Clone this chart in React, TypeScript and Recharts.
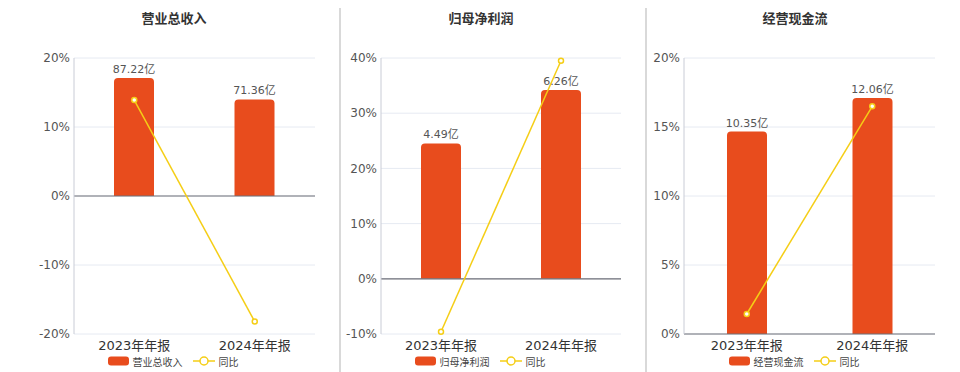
import React from 'react';
import { ComposedChart, Bar, Line, XAxis, YAxis, CartesianGrid, ReferenceLine, LabelList } from 'recharts';

const categories = ['2023年年报', '2024年年报'];

const revenueValues = [87.22, 71.36];
const revenueYoY = [13.9, -18.2];
const profitValues = [4.49, 6.26];
const profitYoY = [-9.6, 39.5];
const cashValues = [10.35, 12.06];
const cashYoY = [1.45, 16.5];

const revenueTicks = [-20, -10, 0, 10, 20];
const profitTicks = [-10, 0, 10, 20, 30, 40];
const cashTicks = [0, 5, 10, 15, 20];

const BAR_COLOR = '#E84C1D';
const LINE_COLOR = '#F5CE16';
const FONT = '"DejaVu Sans", "Noto Sans CJK SC", sans-serif';

type PanelProps = {
  title: string;
  values: number[];
  yoy: number[];
  ticks: number[];
  left: number;
  width: number;
  yAxisWidth: number;
  marginRight: number;
  titleCenter: number;
  legendCenter: number;
};

function Panel(p: PanelProps) {
  const data = categories.map((c, i) => ({ name: c, value: p.values[i], yoy: p.yoy[i] }));
  const pMin = p.ticks[0];
  const pMax = p.ticks[p.ticks.length - 1];
  const amtMax = Math.max(...p.values) * 1.17;
  const amtMin = (amtMax * pMin) / pMax;
  return (
    <>
      <div
        style={{
          position: 'absolute',
          left: p.titleCenter - 100,
          width: 200,
          top: 10,
          textAlign: 'center',
          fontFamily: FONT,
          fontWeight: 'bold',
          fontSize: 13,
          color: '#333',
          lineHeight: '18px',
        }}
      >
        {p.title}
      </div>
      <div style={{ position: 'absolute', left: p.left, top: 0 }}>
        <ComposedChart
          width={p.width}
          height={372}
          data={data}
          margin={{ top: 58, right: p.marginRight, bottom: 8, left: 0 }}
        >
          <CartesianGrid yAxisId="pct" vertical={false} stroke="#E6EAF2" />
          <XAxis
            dataKey="name"
            height={30}
            axisLine={false}
            tickLine={false}
            tickSize={5}
            tickMargin={2}
            tick={{ fontSize: 13, fill: '#333', fontFamily: FONT }}
          />
          <YAxis
            yAxisId="pct"
            width={p.yAxisWidth}
            domain={[pMin, pMax]}
            ticks={p.ticks}
            interval={0}
            tickFormatter={(v: number) => `${v}%`}
            axisLine={{ stroke: '#C9CCD6' }}
            tickLine={false}
            tickSize={2}
            tickMargin={2}
            tick={{ fontSize: 12, fill: '#555', fontFamily: FONT }}
          />
          <YAxis yAxisId="amt" orientation="right" width={0} hide domain={[amtMin, amtMax]} allowDataOverflow />
          <ReferenceLine yAxisId="pct" y={0} stroke="#6E7079" strokeWidth={1.2} />
          <Bar
            yAxisId="amt"
            dataKey="value"
            fill={BAR_COLOR}
            barSize={40}
            radius={[4, 4, 0, 0]}
            isAnimationActive={false}
          >
            <LabelList
              dataKey="value"
              position="top"
              offset={5}
              formatter={(v: number) => `${v}亿`}
              style={{ fontSize: 11, fill: '#555', fontFamily: FONT }}
            />
          </Bar>
          <Line
            yAxisId="pct"
            dataKey="yoy"
            stroke={LINE_COLOR}
            strokeWidth={1.5}
            dot={{ r: 2.5, fill: '#fff', stroke: LINE_COLOR, strokeWidth: 1.5 }}
            isAnimationActive={false}
          />
        </ComposedChart>
      </div>
      <div
        style={{
          position: 'absolute',
          left: p.legendCenter - 100,
          width: 200,
          top: 354,
          display: 'flex',
          justifyContent: 'center',
          alignItems: 'center',
          fontFamily: FONT,
          fontSize: 10,
          color: '#444',
          height: 14,
        }}
      >
        <svg width={21} height={10} style={{ marginRight: 4 }}>
          <rect x={0} y={0.5} width={21} height={9} rx={3} fill={BAR_COLOR} />
        </svg>
        <span>{p.title}</span>
        <svg width={22} height={10} style={{ marginLeft: 10, marginRight: 4 }}>
          <line x1={0} y1={5} x2={22} y2={5} stroke={LINE_COLOR} strokeWidth={1.5} />
          <circle cx={11} cy={5} r={4} fill="#fff" stroke={LINE_COLOR} strokeWidth={1.5} />
        </svg>
        <span>同比</span>
      </div>
    </>
  );
}

export default function App() {
  return (
    <div
      style={{
        position: 'absolute',
        left: 0,
        top: 0,
        width: 960,
        height: 372,
        background: '#fff',
        overflow: 'hidden',
      }}
    >
      <div style={{ position: 'absolute', left: 339, top: 8, width: 1.5, height: 364, background: '#D9D9D9' }} />
      <div style={{ position: 'absolute', left: 645, top: 8, width: 1.5, height: 364, background: '#D9D9D9' }} />
      <Panel
        title="营业总收入"
        values={revenueValues}
        yoy={revenueYoY}
        ticks={revenueTicks}
        left={0}
        width={330}
        yAxisWidth={74}
        marginRight={15}
        titleCenter={174}
        legendCenter={173}
      />
      <Panel
        title="归母净利润"
        values={profitValues}
        yoy={profitYoY}
        ticks={profitTicks}
        left={340}
        width={300}
        yAxisWidth={41}
        marginRight={19}
        titleCenter={481}
        legendCenter={480}
      />
      <Panel
        title="经营现金流"
        values={cashValues}
        yoy={cashYoY}
        ticks={cashTicks}
        left={646}
        width={314}
        yAxisWidth={38}
        marginRight={25}
        titleCenter={795}
        legendCenter={794}
      />
    </div>
  );
}
